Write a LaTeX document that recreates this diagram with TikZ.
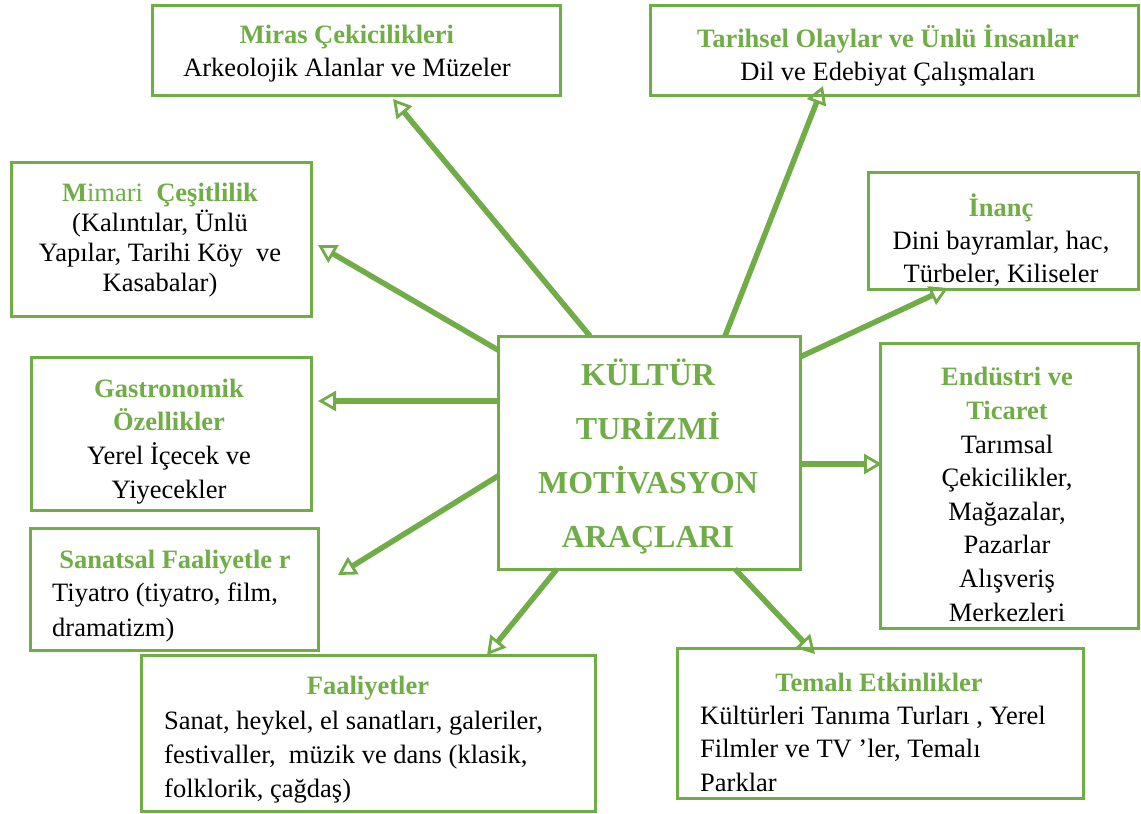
\documentclass[tikz,border=0pt]{standalone}
\usepackage{fontspec}
\setmainfont{Liberation Serif}
\usetikzlibrary{arrows.meta,calc}
\definecolor{grn}{HTML}{70AD47}
\newcommand{\gt}[1]{\textcolor{grn}{\bfseries #1}}
\begin{document}
\begin{tikzpicture}[x=1pt,y=-1pt,
  box/.style={draw=grn, line width=3pt, inner sep=0pt, outer sep=0pt},
  txt/.style={font=\fontsize{26.5}{33}\selectfont, align=center, inner sep=0pt, text=black},
  ltxt/.style={font=\fontsize{26.5}{34}\selectfont, align=left, inner sep=0pt, text=black, anchor=west},
  ctxt/.style={font=\fontsize{32}{54}\selectfont\bfseries, align=center, inner sep=0pt, text=grn},
  arr/.style={draw=grn, line width=5.5pt,
    -{Triangle[open, length=18pt, width=20pt, line width=2.8pt]}}]
\useasboundingbox[fill=white] (0,0) rectangle (1141,814);

% boxes
\node[box, minimum width=408, minimum height=90] (miras) at (356,50) {};
\node[box, minimum width=488, minimum height=90] (tarih) at (894,50) {};
\node[box, minimum width=300, minimum height=154] (mimari) at (161,239) {};
\node[box, minimum width=280, minimum height=153] (gastro) at (171,433.5) {};
\node[box, minimum width=302, minimum height=233] (c) at (649,452.5) {};
\node[box, minimum width=270, minimum height=117] (inanc) at (1003,230.5) {};
\node[box, minimum width=258, minimum height=285] (endus) at (1009,485.5) {};
\node[box, minimum width=288, minimum height=122] (sanat) at (174,589) {};
\node[box, minimum width=454, minimum height=156] (faal) at (368,733) {};
\node[box, minimum width=406, minimum height=150] (tema) at (880,723) {};

% texts
\node[txt] (tmiras) at (347,54) {\gt{Miras Çekicilikleri}\\Arkeolojik Alanlar ve Müzeler};
\node[txt] (ttarih) at (888,56) {\gt{Tarihsel Olaylar ve Ünlü İnsanlar}\\Dil ve Edebiyat Çalışmaları};
\node[txt, font=\fontsize{26.5}{30}\selectfont] (tmimari) at (160,240)
  {\textcolor{grn}{\textbf{M}imari\ \ \textbf{Çeşitlilik}}\\(Kalıntılar, Ünlü\\Yapılar, Tarihi Köy\ \ ve\\Kasabalar)};
\node[txt, font=\fontsize{26.5}{33.7}\selectfont] (tgastro) at (169,441.5)
  {\gt{Gastronomik}\\\gt{Özellikler}\\Yerel İçecek ve\\Yiyecekler};
\node[ctxt] (tc) at (648,456) {KÜLTÜR\\TURİZMİ\\MOTİVASYON\\ARAÇLARI};
\node[txt] (tinanc) at (1001,240) {\gt{İnanç}\\Dini bayramlar, hac,\\Türbeler, Kiliseler};
\node[txt, font=\fontsize{26.5}{33.6}\selectfont] (tendus) at (1007,494.5)
  {\gt{Endüstri ve}\\\gt{Ticaret}\\Tarımsal\\Çekicilikler,\\Mağazalar,\\Pazarlar\\Alışveriş\\Merkezleri};
\node[txt] (tsanat1) at (175,562) {\gt{Sanatsal Faaliyetle r}};
\node[ltxt, font=\fontsize{26.5}{35}\selectfont] (tsanat2) at (52,612.5) {Tiyatro (tiyatro, film,\\dramatizm)};
\node[txt] (tfaal1) at (368,688) {\gt{Faaliyetler}};
\node[ltxt] (tfaal2) at (164,757) {Sanat, heykel, el sanatları, galeriler,\\festivaller,\ \ müzik ve dans (klasik,\\folklorik, çağdaş)};
\node[txt] (ttema1) at (879,682) {\gt{Temalı Etkinlikler}};
\node[ltxt, font=\fontsize{26.5}{33.5}\selectfont] (ttema2) at (700,748.5) {Kültürleri Tanıma Turları , Yerel\\Filmler ve TV ’ler, Temalı\\Parklar};

% arrow tips
\coordinate (emiras) at (393,99);
\coordinate (etarih) at (823,86);
\coordinate (emimari) at (318,245);
\coordinate (egastro) at (318,401);
\coordinate (esanat) at (338,575);
\coordinate (efaal) at (487,655);
\coordinate (etema) at (815,654);
\coordinate (eendus) at (882,464);
\coordinate (einanc) at (948,288);

% arrows
\draw[arr] ($(c.north west)+(92,0)$) -- (emiras);
\draw[arr] ($(c.north west)+(227,0)$) -- (etarih);
\draw[arr] ($(c.north west)+(0,14)$) -- (emimari);
\draw[arr] ($(c.north west)+(0,65)$) -- (egastro);
\draw[arr] ($(c.north west)+(0,140)$) -- (esanat);
\draw[arr] ($(c.south west)+(59,0)$) -- (efaal);
\draw[arr] ($(c.south west)+(237,0)$) -- (etema);
\draw[arr] ($(c.north east)+(0,128)$) -- (eendus);
\draw[arr] ($(c.north east)+(0,21)$) -- (einanc);
\end{tikzpicture}
\end{document}
